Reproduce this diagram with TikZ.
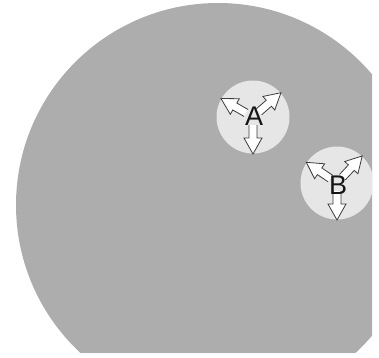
\documentclass[tikz,border=0pt]{standalone}
\usepackage{fontspec}
\setmainfont{Liberation Sans}
\usetikzlibrary{positioning}
\definecolor{disc}{HTML}{ADADAD}
\definecolor{hubfill}{HTML}{E6E6E6}
\definecolor{ink}{HTML}{151515}
\definecolor{rim}{HTML}{3C3C3C}
\tikzset{
  hub/.style={circle,fill=hubfill,draw=none,minimum size=73pt,inner sep=0pt},
  hublabel/.style={font=\fontsize{27}{27}\selectfont,text=ink,inner sep=0pt},
  spokearr/.style={draw=rim,fill=white,line width=0.8pt,line join=miter}
}
% one open block arrow, pointing out of a hub centre
\newcommand{\spoke}[2]{%
  \draw[spokearr,shift={(#1)},rotate=#2]
    (8,-4) -- (21,-4) -- (21,-9) -- (37,0) -- (21,9) -- (21,4) -- (8,4);}

\begin{document}
\begin{tikzpicture}[x=1pt,y=-1pt]
  \useasboundingbox (0,0) rectangle (379,357);
  \begin{scope}
    \clip (0,0) rectangle (372,352);
    % ---- the large disc ----
    \fill[disc] (218,205) circle (202);
    % ---- hubs ----
    \node[hub] (hubA) at (253,117) {};
    \node[hub] (hubB) at (337,183) {};
    % ---- spokes of A ----
    \spoke{hubA.center}{150}
    \spoke{hubA.center}{41}
    \spoke{hubA.center}{270}
    % ---- spokes of B ----
    \spoke{hubB.center}{146}
    \spoke{hubB.center}{47}
    \spoke{hubB.center}{270}
  \end{scope}
  \node[hublabel] (labA) at (254,116) {A};
  \node[hublabel] (labB) at (338,185) {B};
\end{tikzpicture}
\end{document}
